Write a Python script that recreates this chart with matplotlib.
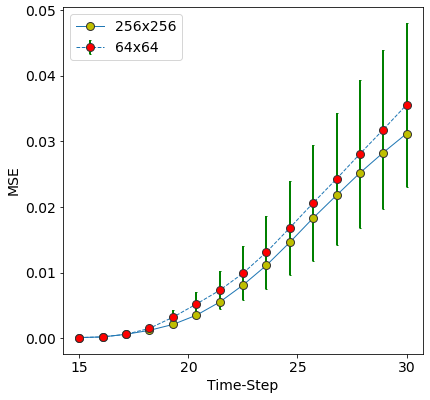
import matplotlib
matplotlib.use("Agg")
import matplotlib.pyplot as plt
import numpy as np

plt.rcParams.update({'font.size': 14})

# time steps (15 evenly spaced steps from 15 to 30)
steps = [15.0, 16.07, 17.14, 18.21, 19.29, 20.36, 21.43, 22.5,
         23.57, 24.64, 25.71, 26.79, 27.86, 28.93, 30.0]

mse_256 = [0.0001, 0.0002, 0.0006, 0.0012, 0.0021, 0.0035, 0.0055, 0.0081,
           0.0111, 0.0146, 0.0183, 0.0218, 0.0252, 0.0283, 0.0312]

mse_64 = [0.0001, 0.0002, 0.0006, 0.0015, 0.0032, 0.0052, 0.0073, 0.0099,
          0.0131, 0.0168, 0.0206, 0.0243, 0.0281, 0.0318, 0.0356]

err_64 = [0.0001, 0.0001, 0.0002, 0.0005, 0.0011, 0.0018, 0.0029, 0.0041,
          0.0056, 0.0072, 0.0088, 0.0101, 0.0113, 0.0121, 0.0125]

fig = plt.figure(figsize=(430 / 72, 400 / 72), dpi=72)
ax = fig.add_axes([0.1465, 0.115, 0.837, 0.8675])

eb = ax.errorbar(steps, mse_64, yerr=err_64, fmt='o--', color='C0', lw=1,
                 ecolor='g', elinewidth=2, capsize=1, markersize=8,
                 markerfacecolor='r', markeredgecolor='0.2', zorder=2,
                 label='64x64')
ln, = ax.plot(steps, mse_256, 'o-', color='C0', lw=1, markersize=8,
              markerfacecolor='y', markeredgecolor='0.2', zorder=2.05,
              label='256x256')

ax.set_xlabel('Time-Step')
ax.set_ylabel('MSE')
ax.set_xticks([15, 20, 25, 30])
ax.legend(handles=[ln, eb], loc='upper left')

fig.savefig('out.png', dpi=72)
